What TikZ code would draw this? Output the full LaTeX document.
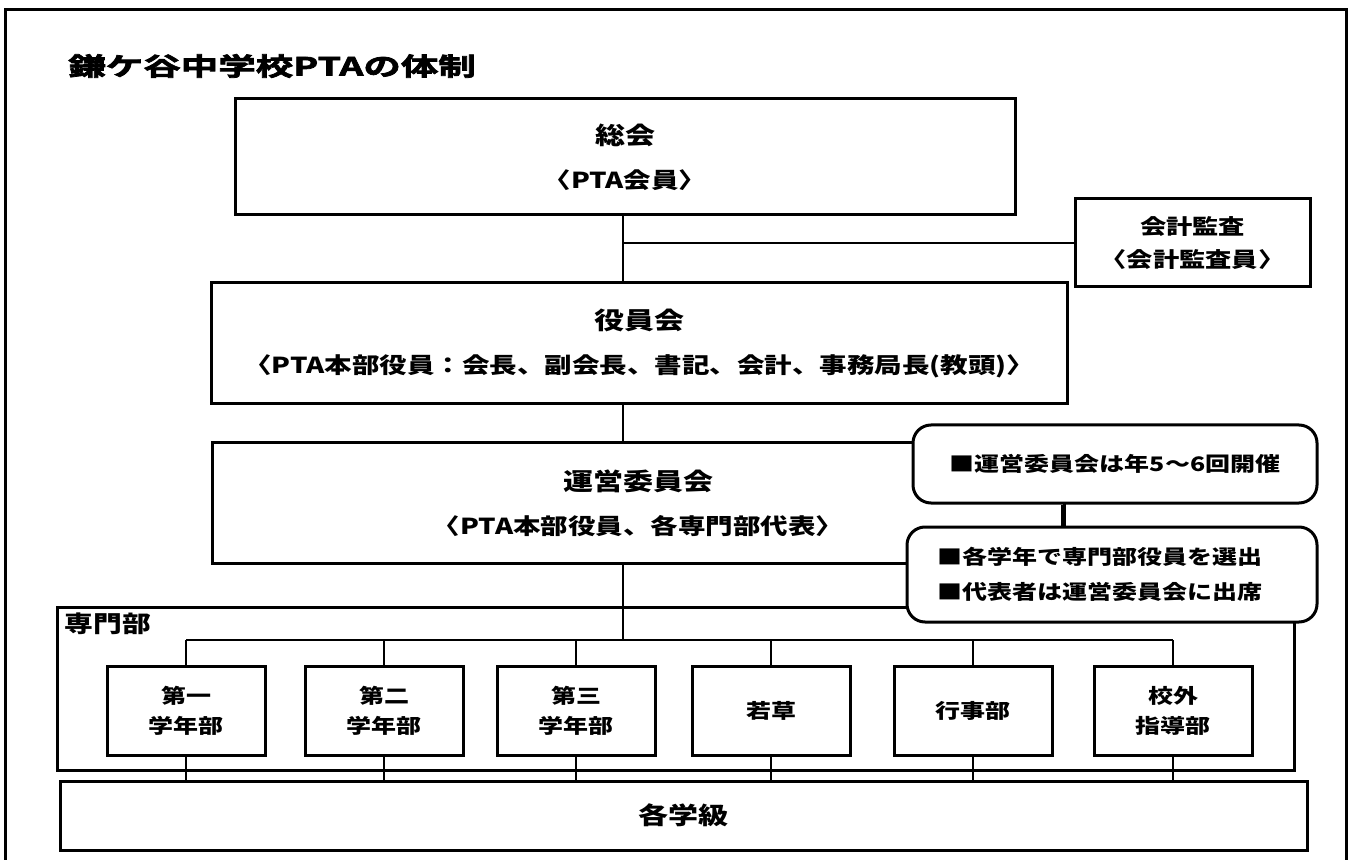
\documentclass[tikz,border=0pt]{standalone}
\usepackage{fontspec}
\setmainfont{Noto Sans CJK JP}[FakeStretch=1.25]
\newfontfamily\titlefont{Noto Sans CJK JP Bold}[FakeStretch=1.5,FakeBold=3]
\usetikzlibrary{calc}
\begin{document}
\begin{tikzpicture}[x=0.5pt,y=-0.5pt,line width=1.3pt,
    box/.style={draw,line width=1.5pt,fill=white,align=center,inner sep=0pt,font=\fontsize{11}{22}\selectfont\bfseries},
    note/.style={draw,line width=1.5pt,fill=white,rounded corners=9pt,inner sep=0pt,font=\fontsize{10}{17.5}\selectfont\bfseries},
    dept/.style={box,minimum width=79pt,minimum height=44.5pt,font=\fontsize{10}{15}\selectfont\bfseries}]
    \useasboundingbox (0,0) rectangle (1353,860);

    % frame and title
    \draw[line width=1.5pt] (5,860) -- (5,10) -- (1346,10) -- (1346,860);
    \node[anchor=west,inner sep=0pt,font=\titlefont\fontsize{12.5}{14}\selectfont] (title) at (67,66) {鎌ケ谷中学校PTAの体制};

    % upper boxes
    \node[box,minimum width=390pt,minimum height=58pt] (soukai) at (625,157) {{\fontsize{12}{22}\selectfont 総会}\\〈PTA会員〉};
    \node[box,minimum width=117.5pt,minimum height=44pt,font=\fontsize{10.5}{16.5}\selectfont\bfseries] (kansa) at (1192.5,243) {会計監査\\〈会計監査員〉};
    \node[box,minimum width=428pt,minimum height=60.5pt] (yakuin) at (639,343.5) {{\fontsize{12}{22}\selectfont 役員会}\\〈PTA本部役員：会長、副会長、書記、会計、事務局長(教頭)〉};
    \node[box,minimum width=426pt,minimum height=60pt] (unei) at (638,503) {{\fontsize{12}{21}\selectfont 運営委員会}\\〈PTA本部役員、各専門部代表〉};

    % 専門部
    \node[draw,line width=1.5pt,inner sep=0pt,minimum width=618.5pt,minimum height=81.5pt] (senmonbu) at (675.5,688.5) {};
    \node[anchor=west,inner sep=0pt,font=\fontsize{11.5}{14}\selectfont\bfseries] (senlabel) at ([xshift=4pt,yshift=-9pt]senmonbu.north west) {専門部};

    % notes
    \node[note,minimum width=202pt,minimum height=39pt] (kaisai) at (1115,464) {■運営委員会は年5～6回開催};
    \node[note,align=left,text width=175pt,inner xsep=15pt,minimum height=47.5pt] (senshutsu) at (1112,574.5) {■各学年で専門部役員を選出\\■代表者は運営委員会に出席};

    % departments
    \foreach \nm/\cx/\lbl in {d1/186/{第一\\学年部}, d2/384/{第二\\学年部}, d3/576/{第三\\学年部}, d4/771/若草, d5/973/行事部, d6/1173/{校外\\指導部}}
        \node[dept] (\nm) at (\cx,710.5) {\lbl};

    \node[box,minimum width=623.5pt,minimum height=34.5pt,font=\fontsize{12}{14}\selectfont\bfseries] (gakkyu) at (683.5,815.5) {各学級};

    % lines
    \coordinate (spine) at (623,0);
    \coordinate (bus) at (0,640);
    \coordinate (link) at (1062,0);
    \draw (soukai.south -| spine) -- (yakuin.north -| spine);
    \draw (spine |- kansa.west) -- (kansa.west);
    \draw (yakuin.south -| spine) -- (unei.north -| spine);
    \draw (unei.south -| spine) -- (bus -| spine);
    \draw (kaisai.south -| link) -- (senshutsu.north -| link);
    \draw (bus -| d1.north) -- (bus -| d6.north);
    \foreach \nm in {d1,d2,d3,d4,d5,d6} {
        \draw (\nm.north) -- (\nm.north |- bus);
        \draw (\nm.south) -- (\nm.south |- gakkyu.north);
    }
\end{tikzpicture}
\end{document}
